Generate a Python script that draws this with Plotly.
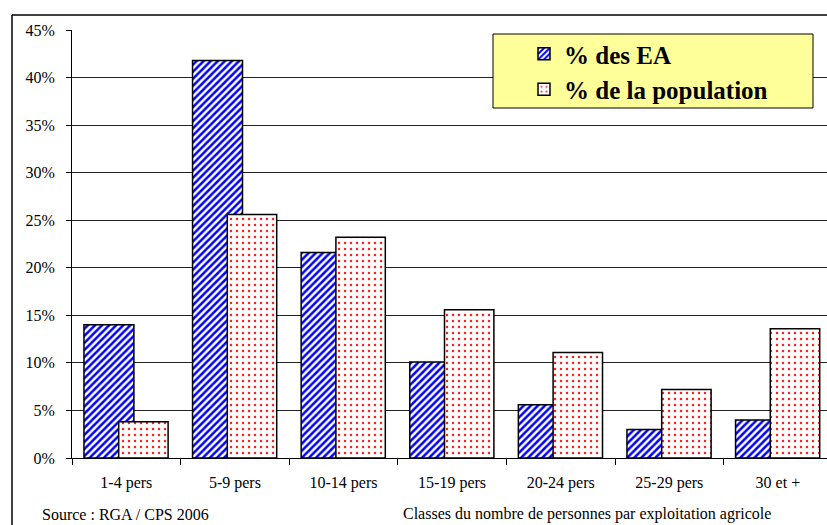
import plotly.graph_objects as go

# Classes of household size on farms
categories = ["1-4 pers", "5-9 pers", "10-14 pers", "15-19 pers",
              "20-24 pers", "25-29 pers", "30 et +"]
# Share of farms (EA) in each class, %
pct_ea = [14.0, 41.8, 21.6, 10.1, 5.6, 3.0, 4.0]
# Share of the population living in each class, %
pct_population = [3.8, 25.6, 23.2, 15.6, 11.1, 7.2, 13.6]
y_ticks = [0, 5, 10, 15, 20, 25, 30, 35, 40, 45]
y_tick_labels = [f"{v}%" for v in y_ticks]

SERIF = "Liberation Serif, Times New Roman, serif"

W, H = 827, 525
L, T, B = 72, 30, 67
plot_w = W - L
plot_h = H - T - B
cat_px = 108.6  # width of one category on the x axis


def px_x(px):
    return (px - L) / plot_w


def px_y(py):
    return (H - B - py) / plot_h


fig = go.Figure()

fig.add_trace(go.Bar(
    x=categories, y=pct_ea, name="% des EA",
    width=0.46, offset=-0.39,
    marker=dict(
        color="white",
        line=dict(color="black", width=1.5),
        pattern=dict(shape="/", fgcolor="#0000FF", bgcolor="white",
                     size=5, solidity=0.5, fillmode="replace"),
    ),
    legendgroup="ea",
))
fig.add_trace(go.Bar(
    x=categories, y=pct_population, name="% de la population",
    width=0.455, offset=-0.07,
    marker=dict(
        color="white",
        line=dict(color="black", width=1.5),
        pattern=dict(shape=".", fgcolor="#FF2020", bgcolor="white",
                     size=6, solidity=0.14, fillmode="replace"),
    ),
    legendgroup="pop",
))

shapes = [
    # legend box
    dict(type="rect", xref="paper", yref="paper",
         x0=px_x(493), x1=px_x(813), y0=px_y(108), y1=px_y(34),
         fillcolor="#FFFF99", line=dict(color="black", width=1), layer="above"),
    # outer frame of the chart
    dict(type="line", xref="paper", yref="paper",
         x0=px_x(12), x1=px_x(W + 5), y0=px_y(15), y1=px_y(15),
         line=dict(color="black", width=1.5)),
    dict(type="line", xref="paper", yref="paper",
         x0=px_x(12), x1=px_x(12), y0=px_y(15), y1=px_y(H + 5),
         line=dict(color="black", width=1.5)),
]

annotations = [
    dict(text="Source : RGA / CPS 2006", xref="paper", yref="paper",
         x=px_x(40), y=px_y(514), xanchor="left", yanchor="middle",
         showarrow=False, font=dict(family=SERIF, size=16, color="black")),
    dict(text="Classes du nombre de personnes par exploitation agricole",
         xref="paper", yref="paper",
         x=px_x(401), y=px_y(514), xanchor="left", yanchor="middle",
         showarrow=False, font=dict(family=SERIF, size=16, color="black")),
]

fig.update_layout(
    width=W, height=H,
    margin=dict(l=L, r=0, t=T, b=B, pad=0),
    paper_bgcolor="white", plot_bgcolor="white",
    barmode="overlay",
    showlegend=True,
    legend=dict(
        x=px_x(524), y=px_y(31), xanchor="left", yanchor="top",
        bgcolor="rgba(0,0,0,0)", borderwidth=0,
        font=dict(family=SERIF, size=25, color="black", weight="bold"),
        traceorder="grouped", tracegroupgap=0,
    ),
    xaxis=dict(
        type="category",
        range=[-0.5, -0.5 + plot_w / cat_px],
        showline=True, linecolor="black", linewidth=1,
        ticks="outside", tickson="boundaries", ticklen=6,
        tickcolor="black", tickwidth=1,
        ticklabelstandoff=10,
        showgrid=False, zeroline=False,
        tickfont=dict(family=SERIF, size=16, color="black"),
    ),
    yaxis=dict(
        range=[0, 45], tickmode="array",
        tickvals=y_ticks, ticktext=y_tick_labels,
        showline=True, linecolor="black", linewidth=1,
        ticks="outside", ticklen=5, tickcolor="black", tickwidth=1,
        ticklabelstandoff=8,
        showgrid=True, gridcolor="#222222", gridwidth=1,
        zeroline=False,
        tickfont=dict(family=SERIF, size=16, color="black"),
    ),
    shapes=shapes,
    annotations=annotations,
)

fig.write_html("out.html")
